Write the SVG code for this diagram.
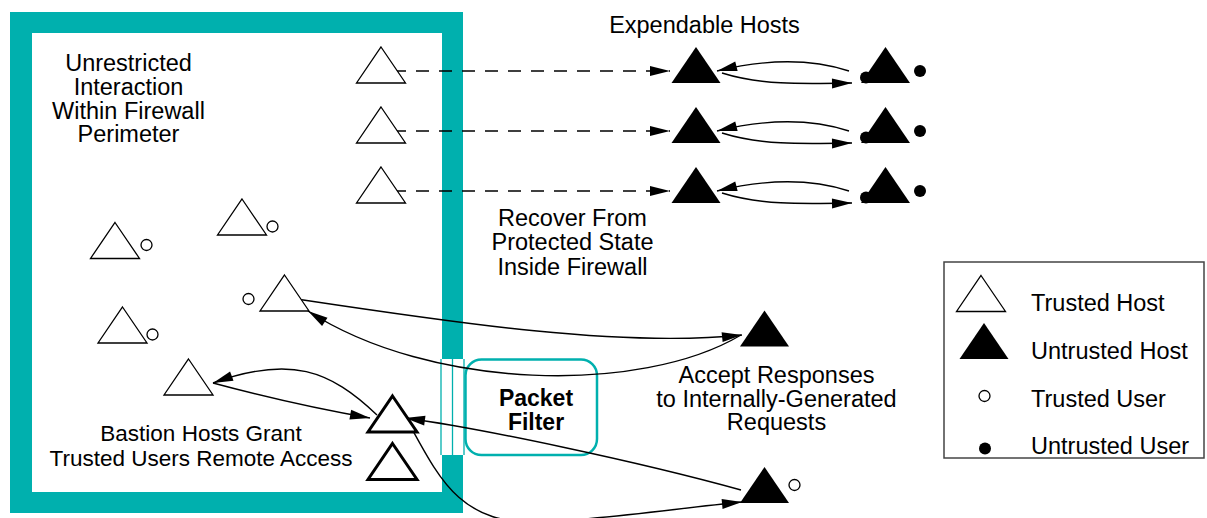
<svg xmlns="http://www.w3.org/2000/svg" width="1207" height="518" viewBox="0 0 1207 518">
<style>
text{font-family:"Liberation Sans",Arial,sans-serif;font-size:23.5px;fill:#000}
.c{text-anchor:middle}
.s{font-size:22.5px}
.b{font-weight:bold;font-size:23px}
.wall{fill:#00B0AE}
.gap{stroke:#00B0AE;stroke-width:1.3;fill:none}
.th{fill:#fff;stroke:#000;stroke-width:1.3;stroke-linejoin:miter}
.bh{fill:#fff;stroke:#000;stroke-width:3}
.uh{fill:#000;stroke:none}
.tu{fill:#fff;stroke:#000;stroke-width:1.3}
.uu{fill:#000}
.ln{fill:none;stroke:#000;stroke-width:1.4;marker-end:url(#ah)}
.dash{stroke-dasharray:13 10}
</style>
<defs>
<path id="tri" d="M0,0 L24.5,36 L-24.5,36 Z"/>
<marker id="ah" markerUnits="userSpaceOnUse" markerWidth="22" markerHeight="12" refX="20" refY="5" orient="auto" overflow="visible">
<path d="M0,0 L20,5 L0,10 Z" fill="#000"/>
</marker>
</defs>
<rect width="1207" height="518" fill="#fff"/>

<g id="firewall">
<rect class="wall" x="10" y="12" width="453" height="21"/>
<rect class="wall" x="10" y="12" width="22" height="501"/>
<rect class="wall" x="10" y="492" width="453" height="21"/>
<rect class="wall" x="442" y="12" width="21" height="347"/>
<rect class="wall" x="442" y="455" width="21" height="58"/>
<line class="gap" x1="441" y1="359" x2="441" y2="455"/>
<line class="gap" x1="452.5" y1="359" x2="452.5" y2="455"/>
<line class="gap" x1="464" y1="359" x2="464" y2="455"/>
</g>

<g id="packet-filter">
<rect x="465.5" y="359.5" width="131.5" height="95.5" rx="16" fill="none" stroke="#00B0AE" stroke-width="2.5"/>
<text class="c b" x="536" y="406">Packet</text>
<text class="c b" x="536" y="430">Filter</text>
</g>

<g id="connectors">
<path class="ln dash" d="M393,71 L670,71"/>
<path class="ln dash" d="M393,131 L670,131"/>
<path class="ln dash" d="M393,191 L670,191"/>
<path class="ln" d="M849,71 C815,60 770,58 717,71"/>
<path class="ln" d="M722,73 C760,85 800,84 852,83"/>
<path class="ln" d="M849,131 C815,120 770,118 717,131"/>
<path class="ln" d="M722,133 C760,145 800,144 852,143"/>
<path class="ln" d="M849,191 C815,180 770,178 717,191"/>
<path class="ln" d="M722,193 C760,205 800,204 852,203"/>
<path class="ln" d="M297,299 C450,322 620,348 742,335"/>
<path class="ln" d="M741,335 C640,395 430,390 308,311"/>
<path class="ln" d="M213,383 Q295,405 370,418"/>
<path class="ln" d="M377,415 C330,370 290,355 213,383"/>
<path class="ln" d="M741,490 C640,462 480,428 405,418"/>
<path class="ln" d="M406,418 C440,480 460,525 540,522 C600,520 680,508 742,502"/>
</g>

<g id="trusted-host-1"><use href="#tri" class="th" x="381" y="47"/></g>
<g id="trusted-host-2"><use href="#tri" class="th" x="381" y="107"/></g>
<g id="trusted-host-3"><use href="#tri" class="th" x="381" y="167"/></g>
<g id="trusted-host-4"><use href="#tri" class="th" x="242" y="199"/><circle class="tu" cx="272.5" cy="226.5" r="5.5"/></g>
<g id="trusted-host-5"><use href="#tri" class="th" x="115" y="222.5"/><circle class="tu" cx="146.5" cy="245" r="5.5"/></g>
<g id="trusted-host-6"><use href="#tri" class="th" x="284.5" y="275"/><circle class="tu" cx="248.5" cy="299" r="5.5"/></g>
<g id="trusted-host-7"><use href="#tri" class="th" x="122.5" y="307"/><circle class="tu" cx="152.5" cy="334.5" r="5.5"/></g>
<g id="trusted-host-8"><use href="#tri" class="th" x="188.5" y="359"/></g>
<g id="bastion-host-1"><use href="#tri" class="bh" x="392.5" y="396"/></g>
<g id="bastion-host-2"><use href="#tri" class="bh" x="392.5" y="443.5"/></g>

<g id="expendable-host-1"><use href="#tri" class="uh" x="696" y="47"/></g>
<g id="expendable-host-2"><use href="#tri" class="uh" x="696" y="107"/></g>
<g id="expendable-host-3"><use href="#tri" class="uh" x="696" y="167"/></g>
<g id="untrusted-host-1"><use href="#tri" class="uh" x="885.5" y="47"/><circle class="uu" cx="866" cy="77.5" r="6"/><circle class="uu" cx="920" cy="71" r="6"/></g>
<g id="untrusted-host-2"><use href="#tri" class="uh" x="885.5" y="107"/><circle class="uu" cx="866" cy="137.5" r="6"/><circle class="uu" cx="920" cy="131" r="6"/></g>
<g id="untrusted-host-3"><use href="#tri" class="uh" x="885.5" y="167"/><circle class="uu" cx="866" cy="197.5" r="6"/><circle class="uu" cx="920" cy="191" r="6"/></g>
<g id="accept-host"><use href="#tri" class="uh" x="764.5" y="310.5"/></g>
<g id="remote-host"><use href="#tri" class="uh" x="764.5" y="467"/><circle class="tu" cx="794.5" cy="485" r="5.5"/></g>

<g id="labels">
<text class="c" x="704.5" y="33">Expendable Hosts</text>
<text class="c" x="128.5" y="71">Unrestricted</text>
<text class="c" x="128.5" y="94.5">Interaction</text>
<text class="c" x="128.5" y="118.5">Within Firewall</text>
<text class="c" x="128.5" y="142">Perimeter</text>
<text class="c" x="572.5" y="226">Recover From</text>
<text class="c" x="572.5" y="250">Protected State</text>
<text class="c" x="572.5" y="274.5">Inside Firewall</text>
<text class="c" x="776.5" y="382.5">Accept Responses</text>
<text class="c" x="776.5" y="406.5">to Internally-Generated</text>
<text class="c" x="776.5" y="430">Requests</text>
<text class="c s" x="201" y="441">Bastion Hosts Grant</text>
<text class="c s" x="201" y="465.5">Trusted Users Remote Access</text>
</g>

<g id="legend">
<rect x="944" y="262" width="260" height="196" fill="none" stroke="#444" stroke-width="1.5"/>
<use href="#tri" class="th" x="981" y="275.5"/>
<text x="1031" y="310.5">Trusted Host</text>
<use href="#tri" class="uh" x="984" y="323"/>
<text x="1031" y="359">Untrusted Host</text>
<circle class="tu" cx="984.5" cy="396" r="5.5"/>
<text x="1031" y="406.5">Trusted User</text>
<circle class="uu" cx="985" cy="448.5" r="6"/>
<text x="1031" y="454">Untrusted User</text>
</g>
</svg>
